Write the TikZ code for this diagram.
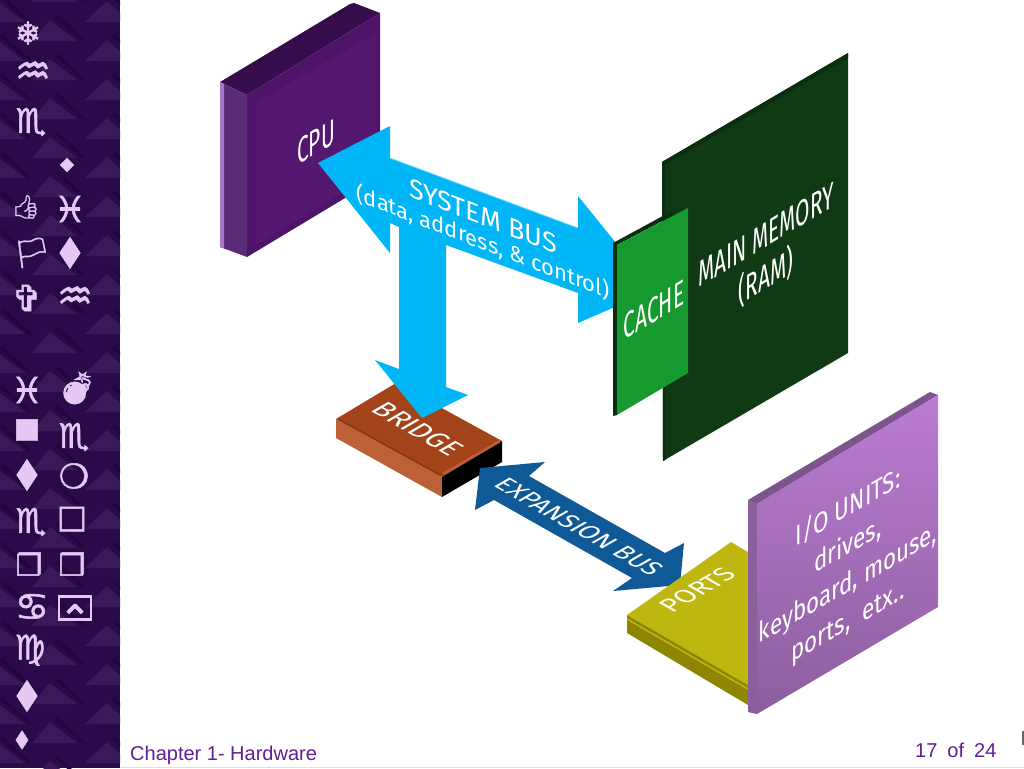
\documentclass[tikz,border=0pt]{standalone}
\usepackage{fontspec}
\setmainfont{Liberation Sans}
\newfontfamily\labelfont{Fira Sans}
\newfontfamily\symfont[FakeBold=1.6]{DejaVu Sans}
\newfontfamily\emojifont[FakeBold=1.2]{Noto Emoji}
\usepackage{xcolor}
\definecolor{qside}{HTML}{2B0A4A}
\definecolor{qtri}{HTML}{391958}
\definecolor{qstripe}{HTML}{210740}
\definecolor{qglyph}{HTML}{E6C8F5}
\definecolor{qfoot}{HTML}{621E96}
\definecolor{qbus}{HTML}{00B6F7}
\definecolor{qbushi}{HTML}{7ADCFA}
\definecolor{qexp}{HTML}{0F5A96}
\definecolor{qcpu}{HTML}{4F1467}
\definecolor{qcpuin}{HTML}{551870}
\definecolor{qcputop}{HTML}{360D4C}
\definecolor{qcpuside}{HTML}{5A2C76}
\definecolor{qcpuedge}{HTML}{A878C4}
\definecolor{qram}{HTML}{0F3A14}
\definecolor{qramdk}{HTML}{0A2E0E}
\definecolor{qcache}{HTML}{169A2F}
\definecolor{qbridge}{HTML}{A2431A}
\definecolor{qbridgeside}{HTML}{BC6036}
\definecolor{qports}{HTML}{BDB70F}
\definecolor{qportsside}{HTML}{8E8602}
\definecolor{qiotop}{HTML}{BB7CD2}
\definecolor{qiobot}{HTML}{8C5E9E}
\definecolor{qioedge}{HTML}{8A5F9C}
\usepackage{tikz}
\usetikzlibrary{positioning,calc}

\begin{document}
\begin{tikzpicture}[x=1pt,y=-1pt,
  glyph/.style={text=qglyph,inner sep=0pt,font=\symfont\fontsize{#1}{#1}\selectfont},
  emoji/.style={text=qglyph,inner sep=0pt,font=\emojifont\fontsize{#1}{#1}\selectfont},
  wide/.style={transform shape,xscale=1.4},
  lab/.style={text=white,align=center,inner sep=0pt,font=\labelfont\fontsize{#1}{#1}\selectfont},
  narrow/.style={transform shape,cm={.58,.35,0,1,(0,0)}},
  front/.style={transform shape,cm={.8,.46,0,1,(0,0)}},
  flat/.style={transform shape,cm={.87,-.5,.87,.5,(0,0)}},
  flatup/.style={transform shape,cm={.87,.5,-.87,.5,(0,0)}},
  foot/.style={text=qfoot,inner sep=0pt,font=\fontsize{20}{20}\selectfont}]
\useasboundingbox (0,0) rectangle (1024,768);
\fill[white] (0,0) rectangle (1024,768);
\fill[qside] (0,0) rectangle (120,768);
\begin{scope}
\clip (0,0) rectangle (120,768);
\foreach \k in {-1,0,...,19}{
  \fill[qtri] (32,{41+39*\k}) -- (50,{20+39*\k}) -- (77,{41+39*\k}) -- cycle;
  \fill[qstripe] (55,{17+39*\k}) -- (58,{15+39*\k}) -- (86,{41+39*\k}) -- (82,{41+39*\k}) -- cycle;
  \fill[qtri] (85,{22+39*\k}) -- (107,{1+39*\k}) -- (130,{22+39*\k}) -- cycle;
  \fill[qstripe] (112,{-2+39*\k}) -- (115,{-4+39*\k}) -- (143,{22+39*\k}) -- (139,{22+39*\k}) -- cycle;
  \fill[qtri] (-25,{22+39*\k}) -- (-3,{1+39*\k}) -- (25,{22+39*\k}) -- cycle;
  \fill[qstripe] (0,{-2+39*\k}) -- (3,{-4+39*\k}) -- (32,{22+39*\k}) -- (28,{22+39*\k}) -- cycle;
}
\end{scope}
\node[glyph=31] (g1) at (28,33) {❄};
\node[glyph=40] (g2) at (33,73) {♒};
\node[glyph=34] (g3) at (31,122) {♏};
\node[glyph=18] (g4) at (67,165) {◆};
\node[emoji=23] (g5) at (26,207) {👍};
\node[glyph=36] (g6) at (70,209) {♓};
\node[emoji=30] (g7) at (32,253) {🏳};
\node[glyph=30,wide] (g8) at (70,253) {⧫};
\node[glyph=36] (g9) at (27,298) {✞};
\node[glyph=40] (g10) at (75,298) {♒};
\node[glyph=36] (g11) at (27,390) {♓};
\node[emoji=32] (g12) at (77,388) {💣};
\node[glyph=28] (g13) at (27,430) {■};
\node[glyph=34] (g14) at (74,437) {♏};
\node[glyph=30,wide] (g15) at (27,475) {⧫};
\node[glyph=34] (g16) at (74,476) {❍};
\node[glyph=34] (g17) at (31,522) {♏};
\node[glyph=32] (g18) at (72,519) {□};
\node[glyph=30] (g19) at (29,564) {❐};
\node[glyph=30] (g20) at (72,564) {❒};
\node[glyph=38] (g21) at (32,607) {♋};
\node[draw=qglyph,line width=2.5pt,minimum width=29pt,minimum height=23pt,text=qglyph,inner sep=0pt,font=\symfont\fontsize{38}{38}\selectfont] (g22) at (75,608) {\raisebox{-24pt}[0pt][0pt]{⌃}};
\node[glyph=34] (g23) at (30,650) {♍};
\node[glyph=30,wide] (g24) at (27,696) {⧫};
\node[glyph=18,wide] (g25) at (22,740) {⧫};

\fill[qcputop] (220,82) -- (350,4) -- (354,3) -- (380,13) -- (247,95) -- cycle;
\fill[qcpuside] (220,82) -- (247,95) -- (247,257) -- (220,247) -- cycle;
\fill[qcpuedge] (220,82) -- (224,84) -- (224,248) -- (220,247) -- cycle;
\fill[qcpu] (247,95) -- (380,13) -- (380,177) -- (247,257) -- cycle;
\fill[qcpuin] (256,103) -- (376,33) -- (376,172) -- (256,245) -- cycle;
\node[lab=36,narrow] (cpu) at (316,142) {CPU};

\fill[qbridge] (336,419) -- (396,383) -- (502,441) -- (442,477) -- cycle;
\fill[qbridgeside] (336,419) -- (442,477) -- (442,497) -- (336,438) -- cycle;
\fill[black] (442,477) -- (502,441) -- (502,462) -- (442,497) -- cycle;
\draw[qbridgeside,line width=2.5pt] (443,474) -- (500,441);
\draw[qbridge!80!black,line width=1.5pt] (338,419) -- (440,475);
\node[lab=28,flat] (bridge) at (418,429) {BRIDGE};

\fill[qram] (662,162) -- (848,53) -- (848,353) -- (663,461) -- cycle;
\fill[qramdk] (662,162) -- (848,53) -- (848,58) -- (665,165) -- (665,460) -- (663,461) -- cycle;

\fill[qbus] (318,163) -- (390,126) -- (390,158) -- (578,228) -- (578,196) -- (654,290)
  -- (578,323) -- (578,293) -- (446,245) -- (446,387) -- (468,395) -- (422,418)
  -- (375,360) -- (399,369) -- (399,227) -- (390,223) -- (390,253) -- cycle;
\draw[qbushi,line width=.8pt] (390,158) -- (578,228);

\fill[qramdk] (613,243) -- (672,211) -- (672,216) -- (617,245) -- (617,415) -- (613,416) -- cycle;
\fill[qcache] (617,245) -- (688,208) -- (688,373) -- (617,415) -- cycle;
\node[lab=36,narrow] (cache) at (654,310) {CACHE};
\node[lab=36,narrow] (ram) at (766,258) {MAIN MEMORY\\[6pt](RAM)};
\node[lab=27,transform shape,yslant=-0.39] (sysbus) at (483,230)
  {\fontsize{27}{27}\selectfont SYSTEM BUS\\[-3pt]\fontsize{22}{22}\selectfont (data, address, \& control)};

\fill[qexp] (480,468) -- (545,462) -- (529,476) -- (665,553) -- (684,543) -- (680,585)
  -- (613,591) -- (632,578) -- (494,500) -- (475,510) -- cycle;
\node[lab=25.5,flat] (expbus) at (579,527) {EXPANSION BUS};

\fill[qports] (627,615) -- (731,542) -- (748,552) -- (748,685) -- cycle;
\fill[qportsside] (627,615) -- (748,685) -- (748,705) -- (627,633) -- cycle;
\draw[qports,line width=1.5pt] (627,619) -- (748,689);
\node[lab=26,flatup] (ports) at (697,590) {PORTS};

\fill[qioedge] (748,500) -- (757,504) -- (757,714) -- (748,712) -- cycle;
\fill[qioedge!90!black] (748,500) -- (930,392) -- (938,395) -- (757,504) -- cycle;
\shade[top color=qiotop,bottom color=qiobot] (757,504) -- (938,395) -- (938,607) -- (757,714) -- cycle;
\node[text=white,align=center,inner sep=0pt,font=\labelfont\fontsize{28}{38}\selectfont,front] (io) at (848,565) {I/O UNITS:\\drives,\\keyboard, mouse,\\ports, \ etx..};

\node[foot,anchor=base west] (chapter) at (130,760) {Chapter 1- Hardware};
\node[foot,anchor=base west] (pagenum) at (915,757) {17\,\,\,of\,\,\,24};
\fill[black!60] (1022,731) rectangle (1024,745);
\fill[black!12] (120,767) rectangle (1024,768);
\end{tikzpicture}
\end{document}
